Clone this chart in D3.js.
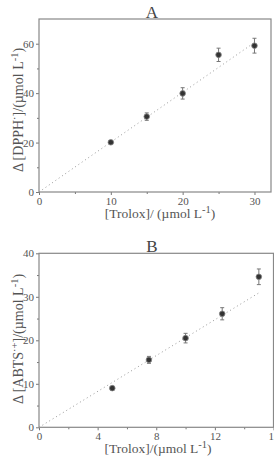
<!DOCTYPE html>
<html>
  <head>
    <meta charset='utf-8'>
    <title></title>
    <script src='https://d3js.org/d3.v7.min.js'></script>
    <style>
      body { margin: 0; background: #fff; }
      svg { display: block; }
      text { font-family: 'Liberation Serif', 'Times New Roman', serif; fill: #555; }
      .frame { fill: none; stroke: #888; stroke-width: 1.2px; }
      .tick line { stroke: #777; }
      .fit { fill: none; stroke: #999; stroke-width: 1px; stroke-dasharray: 1,3; }
      .err { stroke: #777; stroke-width: 1px; }
      .dot { fill: #333; stroke: #888; stroke-width: 0.8px; }
    </style>
  </head>
  <body>
  <script type='text/javascript'>

    // panel A - DPPH
    var trolA = [10, 15, 20, 25, 30];
    var dpph = [20.1, 30.5, 39.9, 55.5, 59.2];
    var dpphErr = [0.7, 1.5, 2.3, 2.7, 3.0];
    var fitA = [[0, 0], [30, 60.5]];
    var xTicksA = [0, 10, 20, 30];
    var yTicksA = [0, 20, 40, 60];

    // panel B - ABTS
    var trolB = [5, 7.5, 10, 12.5, 15];
    var abts = [9.0, 15.5, 20.5, 26.1, 34.6];
    var abtsErr = [0.4, 0.8, 1.1, 1.4, 1.8];
    var fitB = [[0, 0], [15, 30.9]];
    var xTicksB = [0, 4, 8, 12, 16];
    var yTicksB = [0, 10, 20, 30, 40];

    var svg = d3.select('body')
              .append('svg')
              .attr('width', 274)
              .attr('height', 457);

    function panel(opt) {
      var x = d3.scaleLinear().domain(opt.xDom).range([39, opt.right]);
      var y = d3.scaleLinear().domain(opt.yDom).range([opt.bottom, opt.top]);
      var g = svg.append('g');

      // minor ticks
      g.append('g')
        .attr('transform', 'translate(0,' + opt.bottom + ')')
        .call(d3.axisBottom(x).tickValues(opt.xMinor).tickSize(2).tickFormat(''))
        .call(function(a) { a.select('.domain').remove(); });
      g.append('g')
        .attr('transform', 'translate(39,0)')
        .call(d3.axisLeft(y).tickValues(opt.yMinor).tickSize(2).tickFormat(''))
        .call(function(a) { a.select('.domain').remove(); });

      var xa = g.append('g')
        .attr('transform', 'translate(0,' + opt.bottom + ')')
        .call(d3.axisBottom(x).tickValues(opt.xTicks).tickSize(3).tickPadding(2));
      var ya = g.append('g')
        .attr('transform', 'translate(39,0)')
        .call(d3.axisLeft(y).tickValues(opt.yTicks).tickSize(3).tickPadding(2));
      [xa, ya].forEach(function(a) {
        a.select('.domain').remove();
        a.attr('font-family', "'Liberation Serif', serif").attr('font-size', 11);
        a.selectAll('text').style('fill', '#555');
      });

      g.append('rect')
        .attr('class', 'frame')
        .attr('x', 39).attr('y', opt.top)
        .attr('width', opt.right - 39).attr('height', opt.bottom - opt.top);

      g.append('path')
        .datum(opt.fit)
        .attr('class', 'fit')
        .attr('d', d3.line().x(function(d) { return x(d[0]); }).y(function(d) { return y(d[1]); }));

      var pts = opt.xs.map(function(v, i) { return { x: v, y: opt.ys[i], e: opt.es[i] }; });
      var p = g.selectAll('.pt').data(pts).enter().append('g').attr('class', 'pt');
      p.append('line').attr('class', 'err')
        .attr('x1', function(d) { return x(d.x); }).attr('x2', function(d) { return x(d.x); })
        .attr('y1', function(d) { return y(d.y - d.e); }).attr('y2', function(d) { return y(d.y + d.e); });
      [-1, 1].forEach(function(s) {
        p.append('line').attr('class', 'err')
          .attr('x1', function(d) { return x(d.x) - 2; }).attr('x2', function(d) { return x(d.x) + 2; })
          .attr('y1', function(d) { return y(d.y + s * d.e); }).attr('y2', function(d) { return y(d.y + s * d.e); });
      });
      p.append('circle').attr('class', 'dot')
        .attr('cx', function(d) { return x(d.x); })
        .attr('cy', function(d) { return y(d.y); })
        .attr('r', 2.8);

      g.append('text')
        .attr('x', 152).attr('y', opt.top - 1)
        .attr('text-anchor', 'middle')
        .style('font-size', '17px').style('fill', '#444')
        .text(opt.title);

      var xt = g.append('text')
        .attr('x', opt.xTitleX).attr('y', opt.bottom + 26)
        .attr('text-anchor', 'middle')
        .style('font-size', '13.5px');
      xt.append('tspan').text(opt.xLabel);
      xt.append('tspan').attr('dy', -5).style('font-size', '10.5px').text('-1');
      xt.append('tspan').attr('dy', 5).text(')');

      var yt = g.append('text')
        .attr('transform', 'translate(23,' + opt.yTitleY + ') rotate(-90)')
        .attr('text-anchor', 'middle')
        .style('font-size', '14px');
      yt.append('tspan').text(opt.yLabel[0]);
      yt.append('tspan').attr('dy', -5).style('font-size', '10.5px').text(opt.yLabel[1]);
      yt.append('tspan').attr('dy', 5).text(opt.yLabel[2]);
      yt.append('tspan').attr('dy', -5).style('font-size', '10.5px').text('-1');
      yt.append('tspan').attr('dy', 5).text(')');
    }

    panel({
      xDom: [0, 32.3], yDom: [0, 70], right: 271, top: 19, bottom: 192,
      xTicks: xTicksA, yTicks: yTicksA, xMinor: [5, 15, 25], yMinor: [10, 30, 50],
      xs: trolA, ys: dpph, es: dpphErr, fit: fitA, title: 'A',
      xTitleX: 160, xLabel: '[Trolox]/ (\u00b5mol L',
      yTitleY: 110, yLabel: ['\u0394 [DPPH', '\u00b7', ']/(\u00b5mol L']
    });

    panel({
      xDom: [0, 16], yDom: [0, 40], right: 273.5, top: 253.3, bottom: 427.3,
      xTicks: xTicksB, yTicks: yTicksB, xMinor: [2, 6, 10, 14], yMinor: [5, 15, 25, 35],
      xs: trolB, ys: abts, es: abtsErr, fit: fitB, title: 'B',
      xTitleX: 158, xLabel: '[Trolox]/(\u00b5mol L',
      yTitleY: 339, yLabel: ['\u0394 [ABTS', '\u00b7+', ']/(\u00b5mol L']
    });

  </script>
  </body>
</html>
